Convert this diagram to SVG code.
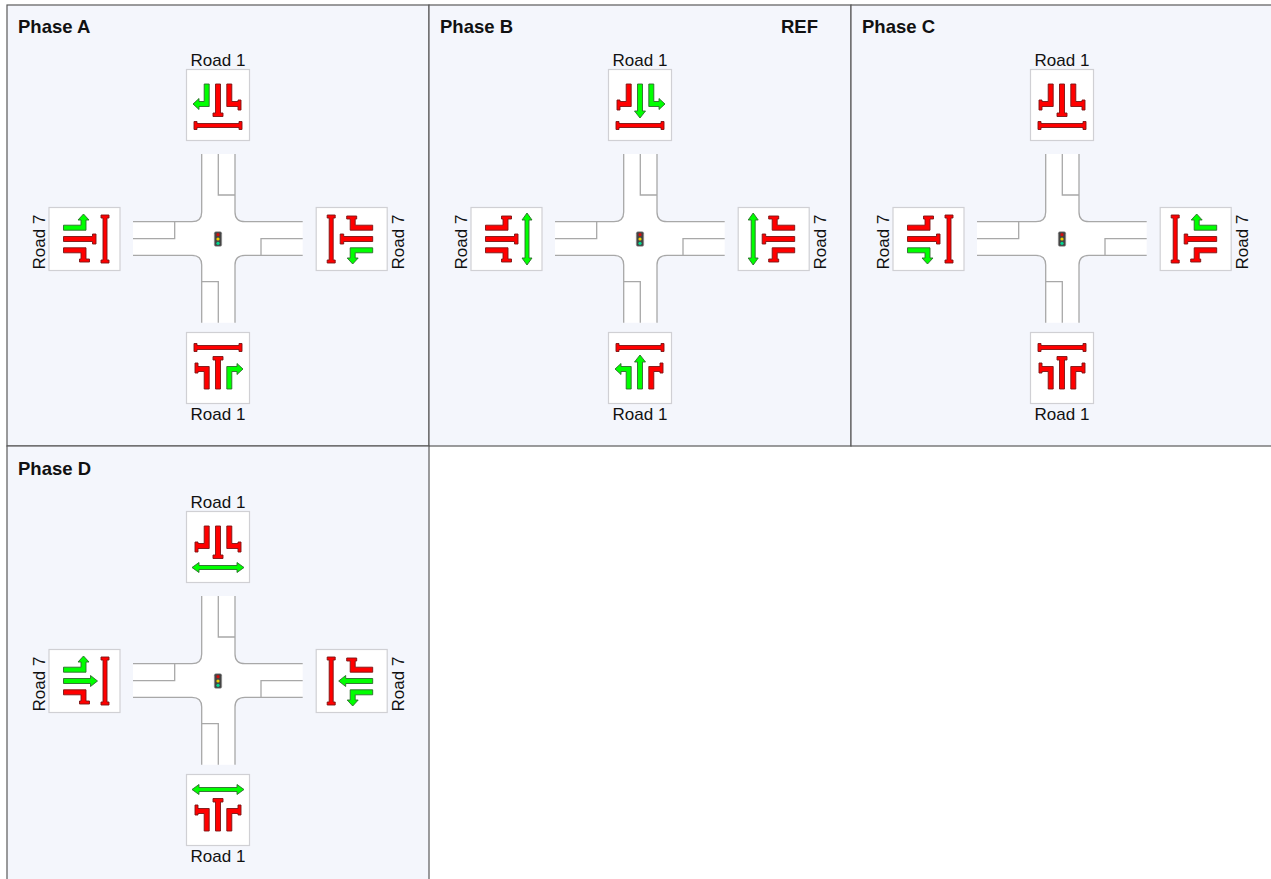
<svg xmlns="http://www.w3.org/2000/svg" width="1271" height="879" viewBox="0 0 1271 879">
<style>
text{font-family:"Liberation Sans",Arial,sans-serif;fill:#111}
.lbl{font-size:17px}
.ttl{font-size:18.5px;font-weight:bold}
.panel{fill:#f4f6fc;stroke:#5a5a5a;stroke-width:1.2}
.box{fill:#fff;stroke:#d0d0d4;stroke-width:1.2}
.r{fill:#f00;stroke:#7a1414;stroke-width:.9}
.g{fill:#0f0;stroke:#2d6b2d;stroke-width:.9}
.rl{fill:none;stroke:#a8a8a8;stroke-width:1.3}
</style>
<defs>
<path id="Lp" d="M-13.8-21H-8.8V1.5H-20V5H-23V-5H-20V-3.5H-13.8Z"/>
<path id="La" d="M-13.8-21H-8.8V1.5H-19V4.5L-25-1-19-6.5V-3.5H-13.8Z"/>
<path id="Rp" d="M13.8-21H8.8V1.5H20V5H23V-5H20V-3.5H13.8Z"/>
<path id="Ra" d="M13.8-21H8.8V1.5H19V4.5L25-1 19-6.5V-3.5H13.8Z"/>
<path id="Sp" d="M-2.5-21H2.5V8H5V11.5H-5V8H-2.5Z"/>
<path id="Sa" d="M-2.5-21H2.5V6H5.5L0 13-5.5 6H-2.5Z"/>
<path id="Pp" d="M-21 18.5H21V16.5H24V24.5H21V22.5H-21V24.5H-24V16.5H-21Z"/>
<path id="Pa" d="M-19 18.5H19V15.5L26 20.5 19 25.5V22.5H-19V25.5L-26 20.5-19 15.5Z"/>
<rect id="bx" class="box" x="-31.5" y="-35.5" width="63" height="71"/>
<g id="road">
<path fill="#fff" d="M201.7 154H235V212Q235 221.700 245 221.700H302.700V255.300H245Q235 255.300 235 265V322.700H201.700V265Q201.700 255.300 192 255.300H133V221.700H192Q201.700 221.700 201.700 212Z"/>
<path class="rl" d="M201.700 154V212Q201.700 221.700 192 221.700H133M133 255.300H192Q201.700 255.300 201.700 265V322.700M235 322.700V265Q235 255.300 245 255.300H302.700M302.700 221.700H245Q235 221.700 235 212V154"/>
<path class="rl" d="M218.300 154V195H235M133 238.700H174.700V221.700M302.700 238.700H261V255.300M218.300 322.700V281.700H201.700"/>
<rect x="214.300" y="231.700" width="7.400" height="14.600" rx="1.500" fill="#444" stroke="#999" stroke-width=".6"/>
<circle cx="218" cy="234.700" r="1.600" fill="#d01010"/>
<circle cx="218" cy="239" r="1.600" fill="#f0d000"/>
<circle cx="218" cy="243.300" r="1.600" fill="#00d890"/>
</g>
</defs>
<g id="phase-a">
<rect class="panel" x="7" y="5" width="422" height="441"/>
<text class="ttl" x="18" y="32.500">Phase A</text>
<use href="#road"/>
<g id="a-north" transform="translate(218 105)"><use href="#bx"/><use href="#La" class="g"/><use href="#Sp" class="r"/><use href="#Rp" class="r"/><use href="#Pp" class="r"/></g>
<g id="a-west" transform="translate(84.500 239) rotate(-90)"><use href="#bx"/><use href="#Lp" class="r"/><use href="#Sp" class="r"/><use href="#Ra" class="g"/><use href="#Pp" class="r"/></g>
<g id="a-east" transform="translate(351.700 239) rotate(90)"><use href="#bx"/><use href="#Lp" class="r"/><use href="#Sp" class="r"/><use href="#Ra" class="g"/><use href="#Pp" class="r"/></g>
<g id="a-south" transform="translate(218 368) rotate(180)"><use href="#bx"/><use href="#La" class="g"/><use href="#Sp" class="r"/><use href="#Rp" class="r"/><use href="#Pp" class="r"/></g>
<text class="lbl" x="218" y="66" text-anchor="middle">Road 1</text>
<text class="lbl" x="218" y="420" text-anchor="middle">Road 1</text>
<text class="lbl" text-anchor="middle" transform="translate(45 242) rotate(-90)">Road 7</text>
<text class="lbl" text-anchor="middle" transform="translate(404 242) rotate(-90)">Road 7</text>
</g>
<g id="phase-b">
<rect class="panel" x="429" y="5" width="422" height="441"/>
<g transform="translate(422 0)">
<text class="ttl" x="18" y="32.500">Phase B</text>
<text class="ttl" x="359" y="32.500">REF</text>
<use href="#road"/>
<g id="b-north" transform="translate(218 105)"><use href="#bx"/><use href="#Lp" class="r"/><use href="#Sa" class="g"/><use href="#Ra" class="g"/><use href="#Pp" class="r"/></g>
<g id="b-west" transform="translate(84.500 239) rotate(-90)"><use href="#bx"/><use href="#Lp" class="r"/><use href="#Sp" class="r"/><use href="#Rp" class="r"/><use href="#Pa" class="g"/></g>
<g id="b-east" transform="translate(351.700 239) rotate(90)"><use href="#bx"/><use href="#Lp" class="r"/><use href="#Sp" class="r"/><use href="#Rp" class="r"/><use href="#Pa" class="g"/></g>
<g id="b-south" transform="translate(218 368) rotate(180)"><use href="#bx"/><use href="#Lp" class="r"/><use href="#Sa" class="g"/><use href="#Ra" class="g"/><use href="#Pp" class="r"/></g>
<text class="lbl" x="218" y="66" text-anchor="middle">Road 1</text>
<text class="lbl" x="218" y="420" text-anchor="middle">Road 1</text>
<text class="lbl" text-anchor="middle" transform="translate(45 242) rotate(-90)">Road 7</text>
<text class="lbl" text-anchor="middle" transform="translate(404 242) rotate(-90)">Road 7</text>
</g>
</g>
<g id="phase-c">
<rect class="panel" x="851" y="5" width="421" height="441"/>
<g transform="translate(844 0)">
<text class="ttl" x="18" y="32.500">Phase C</text>
<use href="#road"/>
<g id="c-north" transform="translate(218 105)"><use href="#bx"/><use href="#Lp" class="r"/><use href="#Sp" class="r"/><use href="#Rp" class="r"/><use href="#Pp" class="r"/></g>
<g id="c-west" transform="translate(84.500 239) rotate(-90)"><use href="#bx"/><use href="#La" class="g"/><use href="#Sp" class="r"/><use href="#Rp" class="r"/><use href="#Pp" class="r"/></g>
<g id="c-east" transform="translate(351.700 239) rotate(90)"><use href="#bx"/><use href="#La" class="g"/><use href="#Sp" class="r"/><use href="#Rp" class="r"/><use href="#Pp" class="r"/></g>
<g id="c-south" transform="translate(218 368) rotate(180)"><use href="#bx"/><use href="#Lp" class="r"/><use href="#Sp" class="r"/><use href="#Rp" class="r"/><use href="#Pp" class="r"/></g>
<text class="lbl" x="218" y="66" text-anchor="middle">Road 1</text>
<text class="lbl" x="218" y="420" text-anchor="middle">Road 1</text>
<text class="lbl" text-anchor="middle" transform="translate(45 242) rotate(-90)">Road 7</text>
<text class="lbl" text-anchor="middle" transform="translate(404 242) rotate(-90)">Road 7</text>
</g>
</g>
<g id="phase-d">
<rect class="panel" x="7" y="446" width="422" height="434"/>
<g transform="translate(0 442)">
<text class="ttl" x="18" y="32.500">Phase D</text>
<use href="#road"/>
<g id="d-north" transform="translate(218 105)"><use href="#bx"/><use href="#Lp" class="r"/><use href="#Sp" class="r"/><use href="#Rp" class="r"/><use href="#Pa" class="g"/></g>
<g id="d-west" transform="translate(84.500 239) rotate(-90)"><use href="#bx"/><use href="#Lp" class="r"/><use href="#Sa" class="g"/><use href="#Ra" class="g"/><use href="#Pp" class="r"/></g>
<g id="d-east" transform="translate(351.700 239) rotate(90)"><use href="#bx"/><use href="#Lp" class="r"/><use href="#Sa" class="g"/><use href="#Ra" class="g"/><use href="#Pp" class="r"/></g>
<g id="d-south" transform="translate(218 368) rotate(180)"><use href="#bx"/><use href="#Lp" class="r"/><use href="#Sp" class="r"/><use href="#Rp" class="r"/><use href="#Pa" class="g"/></g>
<text class="lbl" x="218" y="66" text-anchor="middle">Road 1</text>
<text class="lbl" x="218" y="420" text-anchor="middle">Road 1</text>
<text class="lbl" text-anchor="middle" transform="translate(45 242) rotate(-90)">Road 7</text>
<text class="lbl" text-anchor="middle" transform="translate(404 242) rotate(-90)">Road 7</text>
</g>
</g>
<g id="connectors"></g>
</svg>
